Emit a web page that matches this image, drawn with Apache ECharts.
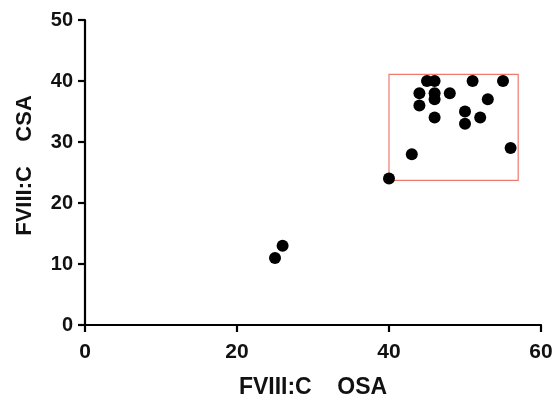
<!DOCTYPE html>
<html>
<head>
<meta charset="utf-8">
<script src="https://cdn.jsdelivr.net/npm/echarts@6/dist/echarts.min.js"></script>
<style>
  html, body {margin: 0; padding: 0; background: #fff;}
  #chart {width: 554px; height: 394px;}
</style>
</head>
<body>
<div id="chart"></div>
<script>
// FVIII:C measured by one-stage (OSA) vs chromogenic (CSA) assay
const osaValues = [25, 26, 40, 43, 56, 45, 46, 51, 55, 44, 46, 48, 53, 46, 44, 50, 46, 52, 50];
const csaValues = [11, 13, 24, 28, 29, 40, 40, 40, 40, 38, 38, 38, 37, 37, 36, 35, 34, 34, 33];
const xTicks = [0, 20, 40, 60];
const yTicks = [0, 10, 20, 30, 40, 50];
// highlighted region (red box)
const boxX = [40, 57];
const boxY = [23.7, 41.1];

const points = osaValues.map((x, i) => [x, csaValues[i]]);

const chart = echarts.init(document.getElementById('chart'));

const font = 'Liberation Sans, Arial, sans-serif';
const axisCommon = {
    axisLine: {lineStyle: {color: '#000', width: 2.2}},
    axisTick: {length: 7, lineStyle: {color: '#000', width: 2.2}},
    splitLine: {show: false},
    nameLocation: 'middle'
};

chart.setOption({
    animation: false,
    grid: {left: 85, right: 13, top: 20, bottom: 69, outerBoundsMode: 'none'},
    xAxis: Object.assign({}, axisCommon, {
        type: 'value',
        min: xTicks[0],
        max: xTicks[xTicks.length - 1],
        interval: xTicks[1] - xTicks[0],
        name: 'FVIII:C    OSA',
        nameGap: 51,
        nameTextStyle: {fontFamily: font, fontWeight: 'bold', fontSize: 23, color: '#111'},
        axisLabel: {
            margin: 17,
            fontFamily: font,
            fontWeight: 'bold',
            fontSize: 21,
            color: '#111'
        }
    }),
    yAxis: Object.assign({}, axisCommon, {
        type: 'value',
        min: yTicks[0],
        max: yTicks[yTicks.length - 1],
        interval: yTicks[1] - yTicks[0],
        name: 'FVIII:C    CSA',
        nameGap: 49,
        nameTextStyle: {
            fontFamily: font, fontWeight: 'bold', fontSize: 22, color: '#111',
            padding: [0, 0, 0, 14]
        },
        axisLabel: {
            margin: 12,
            fontFamily: font,
            fontWeight: 'bold',
            fontSize: 20,
            color: '#111'
        }
    }),
    series: [{
        type: 'scatter',
        data: points,
        symbolSize: 12,
        itemStyle: {color: '#000', opacity: 1},
        markArea: {
            silent: true,
            itemStyle: {color: 'rgba(0,0,0,0)', borderColor: '#ee7a6e', borderWidth: 1.2},
            data: [[{coord: [boxX[0], boxY[0]]}, {coord: [boxX[1], boxY[1]]}]]
        },
        z: 3
    }]
});
</script>
</body>
</html>
